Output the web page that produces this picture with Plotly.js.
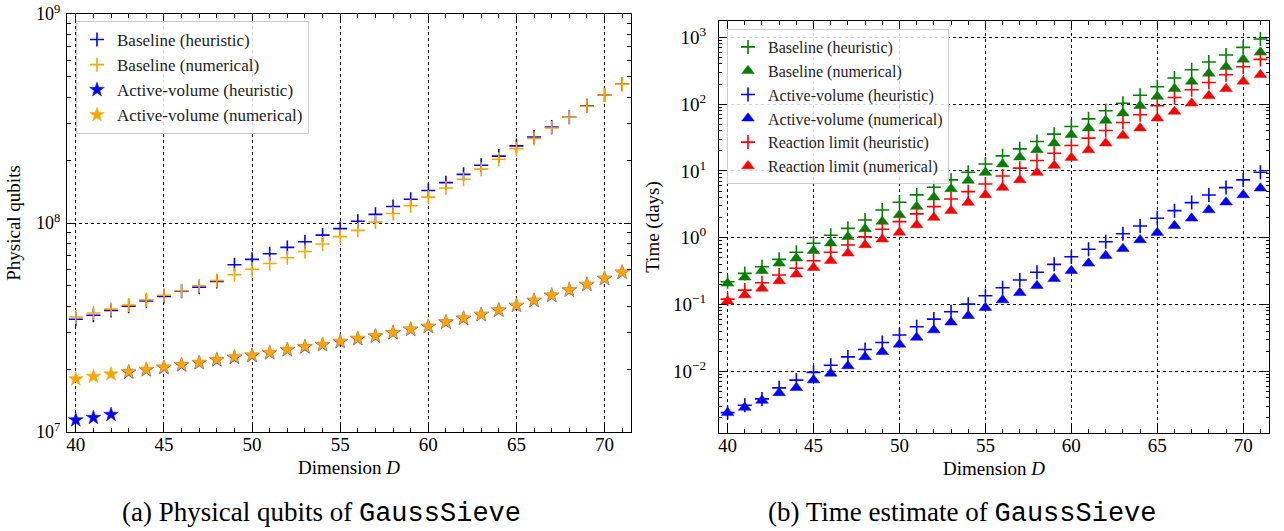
<!DOCTYPE html>
<html>
<head>
<meta charset="utf-8">
<script src="https://cdn.plot.ly/plotly-3.0.1.min.js"></script>
<style>html,body{margin:0;padding:0;background:#fff;}#chart{width:1284px;height:531px;}</style>
</head>
<body>
<div id="chart"></div>
<script>
// Dimension D
const dims = [40,41,42,43,44,45,46,47,48,49,50,51,52,53,54,55,56,57,58,59,60,61,62,63,64,65,66,67,68,69,70,71];

// (a) Physical qubits
const baselineHeurQubits = [3.46e7,3.62e7,3.81e7,4.00e7,4.23e7,4.45e7,4.71e7,4.93e7,5.25e7,6.31e7,6.70e7,7.13e7,7.64e7,8.13e7,8.75e7,9.40e7,1.02e8,1.10e8,1.20e8,1.30e8,1.43e8,1.56e8,1.71e8,1.89e8,2.09e8,2.34e8,2.58e8,2.88e8,3.21e8,3.64e8,4.10e8,4.62e8];
const baselineNumQubits = [3.55e7,3.71e7,3.87e7,4.05e7,4.29e7,4.51e7,4.74e7,5.01e7,5.31e7,5.65e7,6.01e7,6.40e7,6.82e7,7.31e7,7.94e7,8.61e7,9.22e7,1.01e8,1.11e8,1.21e8,1.33e8,1.47e8,1.62e8,1.81e8,2.02e8,2.27e8,2.54e8,2.85e8,3.21e8,3.62e8,4.10e8,4.62e8];
const activeHeurQubits = [1.14e7,1.17e7,1.21e7,1.93e7,1.98e7,2.03e7,2.09e7,2.14e7,2.21e7,2.27e7,2.32e7,2.39e7,2.47e7,2.55e7,2.61e7,2.70e7,2.79e7,2.87e7,2.98e7,3.09e7,3.19e7,3.35e7,3.49e7,3.64e7,3.82e7,4.02e7,4.25e7,4.50e7,4.77e7,5.07e7,5.42e7,5.80e7];
const activeNumQubits = [1.79e7,1.84e7,1.89e7,1.94e7,1.99e7,2.04e7,2.10e7,2.15e7,2.22e7,2.28e7,2.33e7,2.40e7,2.48e7,2.56e7,2.62e7,2.71e7,2.80e7,2.88e7,2.99e7,3.10e7,3.20e7,3.36e7,3.50e7,3.65e7,3.83e7,4.03e7,4.26e7,4.51e7,4.78e7,5.08e7,5.43e7,5.81e7];

// (b) Time estimate (days)
const baselineHeurDays = [0.219,0.292,0.367,0.474,0.604,0.824,1.09,1.38,1.84,2.60,3.40,4.37,5.70,7.33,9.56,12.7,16.8,21.4,27.5,35.5,46.2,60.2,79.4,103,136,182,246,327,427,543,708,944];
const baselineNumDays = [0.207,0.255,0.32,0.413,0.491,0.638,0.824,1.03,1.35,1.74,2.19,2.92,4.03,5.37,7.16,9.43,12.6,16.0,20.6,26.0,34.7,43.7,56.8,73.3,94.4,130,170,219,288,363,468,596];
const activeHeurDays = [0.0024,0.0031,0.00385,0.00564,0.00736,0.0096,0.0123,0.0164,0.0212,0.027,0.0348,0.0463,0.0604,0.0778,0.101,0.135,0.178,0.232,0.303,0.399,0.519,0.670,0.871,1.148,1.50,1.95,2.54,3.35,4.36,5.62,7.33,9.56];
const activeNumDays = [0.00238,0.00287,0.00365,0.00474,0.00564,0.00736,0.00927,0.012,0.0164,0.0195,0.0252,0.0321,0.0413,0.054,0.0677,0.0893,0.1164,0.150,0.191,0.243,0.32,0.413,0.537,0.684,0.924,1.19,1.51,1.95,2.60,3.40,4.36,5.51];
const reactionHeurDays = [0.12,0.164,0.211,0.276,0.348,0.452,0.604,0.778,1.03,1.34,1.74,2.27,2.92,3.80,4.89,6.38,8.41,11.0,14.3,18.4,24.0,31.0,40.2,53.0,69.2,94.4,126,164,211,275,363,468];
const reactionNumDays = [0.112,0.138,0.174,0.224,0.283,0.355,0.452,0.583,0.778,0.946,1.20,1.55,2.0,2.54,3.35,4.37,5.62,7.33,9.43,12.0,15.8,20.6,26.0,33.8,43.7,61.7,77.6,103,133,170,219,275];

// Tick labels
const qubitTickVals = [1e7, 1e8, 1e9];
const qubitTickText = ['10<sup>7</sup>', '10<sup>8</sup>', '10<sup>9</sup>'];
const dayTickVals = [1e-2, 1e-1, 1, 10, 100, 1000];
const dayTickText = ['10<sup>\u22122</sup>', '10<sup>\u22121</sup>', '10<sup>0</sup>', '10<sup>1</sup>', '10<sup>2</sup>', '10<sup>3</sup>'];

const BLUE = '#0000ff', ORANGE = '#ffa500', GREEN = '#008000', RED = '#ff0000';
const SERIF = 'Liberation Serif, Times New Roman, serif';
const MONO = 'Liberation Mono, DejaVu Sans Mono, monospace';

function plus(x, y, name, color, xa, ya, legend) {
  return {x, y, name, type: 'scatter', mode: 'markers', xaxis: xa, yaxis: ya, legend,
    marker: {symbol: 'cross-thin', size: 10, color, line: {color, width: 1.6}}};
}
function star(x, y, name, color, xa, ya, legend) {
  return {x, y, name, type: 'scatter', mode: 'markers', xaxis: xa, yaxis: ya, legend,
    marker: {symbol: 'star', size: 11, color, line: {color, width: 0.5}}};
}
function tri(x, y, name, color, xa, ya, legend) {
  return {x, y, name, type: 'scatter', mode: 'markers', xaxis: xa, yaxis: ya, legend,
    marker: {symbol: 'triangle-up', size: 11, color, line: {color, width: 0.5}}};
}

const data = [
  plus(dims, baselineHeurQubits, 'Baseline (heuristic)', BLUE, 'x', 'y', 'legend'),
  plus(dims, baselineNumQubits, 'Baseline (numerical)', ORANGE, 'x', 'y', 'legend'),
  star(dims, activeHeurQubits, 'Active-volume (heuristic)', BLUE, 'x', 'y', 'legend'),
  star(dims, activeNumQubits, 'Active-volume (numerical)', ORANGE, 'x', 'y', 'legend'),
  plus(dims, baselineHeurDays, 'Baseline (heuristic)', GREEN, 'x2', 'y2', 'legend2'),
  tri(dims, baselineNumDays, 'Baseline (numerical)', GREEN, 'x2', 'y2', 'legend2'),
  plus(dims, activeHeurDays, 'Active-volume (heuristic)', BLUE, 'x2', 'y2', 'legend2'),
  tri(dims, activeNumDays, 'Active-volume (numerical)', BLUE, 'x2', 'y2', 'legend2'),
  plus(dims, reactionHeurDays, 'Reaction limit (heuristic)', RED, 'x2', 'y2', 'legend2'),
  tri(dims, reactionNumDays, 'Reaction limit (numerical)', RED, 'x2', 'y2', 'legend2')
];

const W = 1284, H = 531;
function xdom(a, b) { return [a / W, b / W]; }
function ydom(top, bottom) { return [1 - bottom / H, 1 - top / H]; }

const common = {
  showline: true, linecolor: 'black', linewidth: 1.3, mirror: 'allticks',
  ticks: 'inside', ticklen: 7, tickwidth: 1, tickcolor: 'black',
  showgrid: true, gridcolor: 'black', gridwidth: 1, griddash: 'dot',
  zeroline: false, ticklabeloverflow: 'allow',
  tickfont: {family: SERIF, size: 19, color: 'black'}
};
const xcommon = Object.assign({}, common, {
  range: [39.5, 71.5], tickmode: 'linear', tick0: 40, dtick: 5, ticklabelstandoff: -5,
  minor: {ticks: 'inside', ticklen: 4, dtick: 1, tick0: 40, tickcolor: 'black', showgrid: false},
  title: {text: 'Dimension <i>D</i>', font: {family: SERIF, size: 19, color: 'black'}, standoff: 6}
});

const layout = {
  width: W, height: H,
  margin: {l: 0, r: 0, t: 0, b: 0},
  paper_bgcolor: 'white', plot_bgcolor: 'white',
  font: {family: SERIF, color: 'black', size: 16},
  showlegend: true,
  xaxis: Object.assign({}, xcommon, {domain: xdom(67, 631), anchor: 'y'}),
  yaxis: Object.assign({}, common, {
    domain: ydom(14, 432), anchor: 'x', type: 'log', range: [6.9995, 9.0005],
    tickmode: 'array', tickvals: qubitTickVals, ticktext: qubitTickText, ticklabelstandoff: 2,
    tickfont: {family: SERIF, size: 18, color: 'black'},
    minor: {ticks: 'inside', ticklen: 4, dtick: 'D1', tickcolor: 'black', showgrid: false},
    title: {text: 'Physical qubits', font: {family: SERIF, size: 19, color: 'black'}, standoff: 10}
  }),
  xaxis2: Object.assign({}, xcommon, {domain: xdom(719, 1269), anchor: 'y2'}),
  yaxis2: Object.assign({}, common, {
    domain: ydom(21, 433), anchor: 'x2', type: 'log', range: [-2.925, 3.245],
    tickmode: 'array', tickvals: dayTickVals, ticktext: dayTickText, ticklabelstandoff: 8,
    minor: {ticks: 'inside', ticklen: 3, dtick: 'D1', tickcolor: 'black', showgrid: false},
    title: {text: 'Time (days)', font: {family: SERIF, size: 19, color: 'black'}, standoff: 8}
  }),
  legend: {
    x: 76 / W, y: 1 - 21 / H, xanchor: 'left', yanchor: 'top',
    bgcolor: 'rgba(255,255,255,0.85)', bordercolor: '#cccccc', borderwidth: 1,
    font: {family: SERIF, size: 17, color: '#222222'}
  },
  legend2: {
    x: 727 / W, y: 1 - 29 / H, xanchor: 'left', yanchor: 'top',
    bgcolor: 'rgba(255,255,255,0.85)', bordercolor: '#cccccc', borderwidth: 1,
    font: {family: SERIF, size: 16, color: '#222222'}
  },
  annotations: [
    {text: '(a) Physical qubits of <span style="font-family:' + MONO + '">GaussSieve</span>',
     xref: 'paper', yref: 'paper', x: 321.7 / W, y: 1 - 513 / H, xanchor: 'center', yanchor: 'middle',
     showarrow: false, font: {family: SERIF, size: 27, color: 'black'}},
    {text: '(b) Time estimate of <span style="font-family:' + MONO + '">GaussSieve</span>',
     xref: 'paper', yref: 'paper', x: 962 / W, y: 1 - 513 / H, xanchor: 'center', yanchor: 'middle',
     showarrow: false, font: {family: SERIF, size: 27, color: 'black'}}
  ]
};

Plotly.newPlot('chart', data, layout, {displayModeBar: false, responsive: false});
</script>
</body>
</html>
